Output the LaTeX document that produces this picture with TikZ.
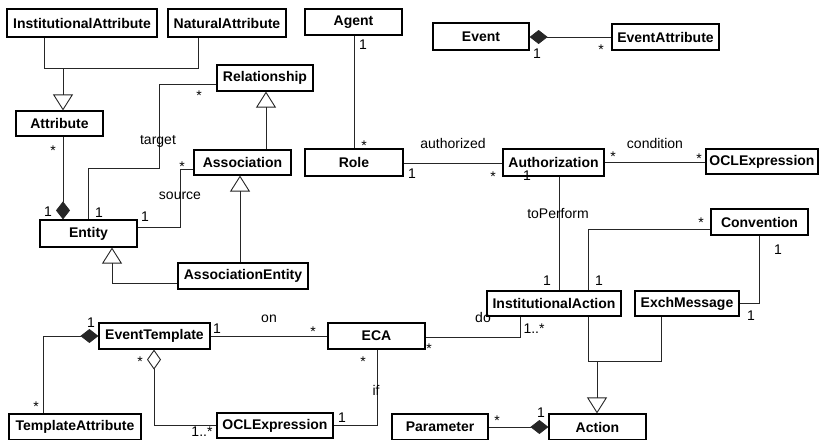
\documentclass[tikz,border=0pt]{standalone}
\usepackage{fontspec}
\setmainfont{Liberation Sans}
\usetikzlibrary{arrows.meta}
\begin{document}
\begin{tikzpicture}[x=1pt,y=-1pt,
  box/.style={draw, line width=1.2pt, font=\bfseries\fontsize{14}{16}\selectfont, inner sep=0pt, fill=white},
  conn/.style={line width=0.8pt, draw=black!85},
  gen/.style={conn, -{Triangle[open,length=16pt,width=20pt,line width=0.9pt]}},
  comp/.style={conn, {Diamond[length=18pt,width=14pt]}-},
  agg/.style={conn, {Diamond[open,length=20pt,width=14pt,line width=0.9pt]}-},
  lbl/.style={font=\fontsize{14}{16}\selectfont, inner sep=0pt, text height=10pt, text depth=0pt},
  mstar/.style={lbl, yshift=-3pt}]
\useasboundingbox[fill=white] (0,0) rectangle (821,439);
% boxes
\node[box, minimum width=150pt, minimum height=28pt] (IA) at (82,23) {InstitutionalAttribute};
\node[box, minimum width=118pt, minimum height=28pt] (NA) at (227,23) {NaturalAttribute};
\node[box, minimum width=87pt, minimum height=25pt] (Attr) at (59.5,123.5) {Attribute};
\node[box, minimum width=96pt, minimum height=26pt] (Rel) at (265,78) {Relationship};
\node[box, minimum width=97pt, minimum height=25pt] (Assoc) at (242.5,162.5) {Association};
\node[box, minimum width=97pt, minimum height=27pt] (Entity) at (88.5,233.5) {Entity};
\node[box, minimum width=130pt, minimum height=26pt] (AE) at (243,276) {AssociationEntity};
\node[box, minimum width=97pt, minimum height=26pt] (Agent) at (353.5,22) {Agent};
\node[box, minimum width=96pt, minimum height=27pt] (Event) at (481,36.5) {Event};
\node[box, minimum width=107pt, minimum height=26pt] (EA) at (665.5,37) {EventAttribute};
\node[box, minimum width=98pt, minimum height=27pt] (Role) at (354,162.5) {Role};
\node[box, minimum width=101pt, minimum height=27pt] (Auth) at (553.5,162.5) {Authorization};
\node[box, minimum width=112pt, minimum height=25pt] (OCLa) at (762,161.5) {OCLExpression};
\node[box, minimum width=97pt, minimum height=26pt] (Conv) at (759.5,222) {Convention};
\node[box, minimum width=134pt, minimum height=25pt] (IAct) at (554,303.5) {InstitutionalAction};
\node[box, minimum width=104pt, minimum height=25pt] (EM) at (687,303.5) {ExchMessage};
\node[box, minimum width=111pt, minimum height=26pt] (ET) at (154.5,336) {EventTemplate};
\node[box, minimum width=97pt, minimum height=26pt] (ECA) at (376.5,336) {ECA};
\node[box, minimum width=132pt, minimum height=26pt] (TA) at (75,427) {TemplateAttribute};
\node[box, minimum width=116pt, minimum height=25pt] (OCLb) at (275,425.5) {OCLExpression};
\node[box, minimum width=96pt, minimum height=26pt] (Param) at (440,427) {Parameter};
\node[box, minimum width=97pt, minimum height=26pt] (Action) at (597.5,427) {Action};
% generalizations
\draw[conn] (IA.south -| 44,0) |- (198,68) -- (NA.south -| 198,0);
\draw[gen] (63,68) -- (Attr.north -| 63,0);
\draw[gen] (Assoc.north -| 266,0) -- (Rel.south -| 266,0);
\draw[gen] (AE.north -| 240,0) -- (Assoc.south -| 240,0);
\draw[gen] (AE.west |- 0,283) -| (Entity.south -| 112,0);
\draw[conn] (IAct.south -| 588,0) |- (661,361) -- (EM.south -| 661,0);
\draw[gen] (597,361) -- (Action.north -| 597,0);
% compositions
\draw[comp] (Entity.north -| 63,0) -- (Attr.south -| 63,0);
\draw[comp] (Event.east |- 0,37) -- (EA.west |- 0,37);
\draw[comp] (Action.west |- 0,427) -- (Param.east |- 0,427);
\draw[comp] (ET.west |- 0,336) -| (TA.north -| 43,0);
\draw[agg] (ET.south -| 154,0) |- (OCLb.west |- 0,425);
% associations
\draw[conn] (Entity.north -| 88,0) |- (159,168) |- (Rel.west |- 0,84);
\draw[conn] (Entity.east |- 0,227) -| (180,169) -- (Assoc.west |- 0,169);
\draw[conn] (Agent.south -| 354,0) -- (Role.north -| 354,0);
\draw[conn] (Role.east |- 0,163) -- (Auth.west |- 0,163);
\draw[conn] (Auth.east |- 0,162) -- (OCLa.west |- 0,162);
\draw[conn] (Auth.south -| 559,0) -- (IAct.north -| 559,0);
\draw[conn] (Conv.west |- 0,229) -| (IAct.north -| 588,0);
\draw[conn] (Conv.south -| 759,0) |- (EM.east |- 0,303);
\draw[conn] (ECA.east |- 0,337) -| (IAct.south -| 520,0);
\draw[conn] (ET.east |- 0,336) -- (ECA.west |- 0,336);
\draw[conn] (ECA.south -| 377,0) |- (OCLb.east |- 0,425);
% labels
\node[mstar] (l1) at (53,147) {*};
\node[lbl] (l2) at (48,211) {1};
\node[lbl] (l3) at (99,212) {1};
\node[mstar] (l4) at (199,92) {*};
\node[lbl] (l5) at (158,139) {target};
\node[lbl] (l6) at (145,216) {1};
\node[mstar] (l7) at (182,163) {*};
\node[lbl] (l8) at (180,194) {source};
\node[lbl] (l9) at (363,44) {1};
\node[mstar] (l10) at (364,142) {*};
\node[lbl] (l11) at (412,173) {1};
\node[mstar] (l12) at (493,173) {*};
\node[lbl] (l13) at (453,143) {authorized};
\node[lbl] (l14) at (527,175) {1};
\node[mstar] (l15) at (613,153) {*};
\node[mstar] (l16) at (699,155) {*};
\node[lbl] (l17) at (655,143) {condition};
\node[lbl] (l18) at (537,53) {1};
\node[mstar] (l19) at (601,46) {*};
\node[lbl] (l20) at (558,213) {toPerform};
\node[lbl] (l21) at (547,280) {1};
\node[mstar] (l22) at (701,219) {*};
\node[lbl] (l23) at (599,280) {1};
\node[lbl] (l24) at (778,249) {1};
\node[lbl] (l25) at (751,315) {1};
\node[lbl] (l26) at (483,317) {do};
\node[lbl] (l27) at (534,328) {1..*};
\node[mstar] (l28) at (429,345) {*};
\node[mstar] (l29) at (497,417) {*};
\node[lbl] (l30) at (541,412) {1};
\node[lbl] (l31) at (217,328) {1};
\node[mstar] (l32) at (313,328) {*};
\node[lbl] (l33) at (269,317) {on};
\node[lbl] (l34) at (91,322) {1};
\node[mstar] (l35) at (36,403) {*};
\node[mstar] (l36) at (140,358) {*};
\node[lbl] (l37) at (202,431) {1..*};
\node[mstar] (l38) at (363,358) {*};
\node[lbl] (l39) at (376,390) {if};
\node[lbl] (l40) at (342,417) {1};
\end{tikzpicture}
\end{document}
